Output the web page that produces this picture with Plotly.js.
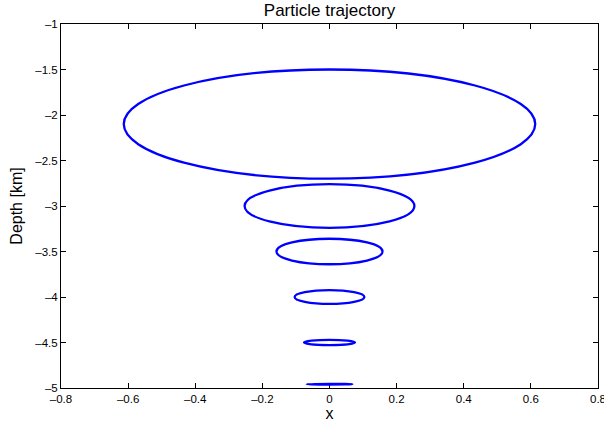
<!DOCTYPE html>
<html>
<head>
<meta charset="utf-8">
<script src="https://cdn.plot.ly/plotly-3.0.1.min.js"></script>
<style>
  html, body { margin: 0; padding: 0; background: #fff; }
  #chart { width: 604px; height: 427px; }
</style>
</head>
<body>
<div id="chart"></div>
<script>
// Orbit centres (depth) and semi-axes
const centerX = [0, 0, 0, 0, 0, 0];
const centerDepth = [-2.1, -3.0, -3.5, -4.0, -4.5, -4.958];
const semiX = [0.613, 0.253, 0.158, 0.104, 0.076, 0.068];
const semiZ = [0.600, 0.240, 0.140, 0.076, 0.028, 0.004];

const xTickVals = [-0.8, -0.6, -0.4, -0.2, 0, 0.2, 0.4, 0.6, 0.8];
const xTickText = ['\u20130.8', '\u20130.6', '\u20130.4', '\u20130.2', '0', '0.2', '0.4', '0.6', '0.8'];
const yTickVals = [-5, -4.5, -4, -3.5, -3, -2.5, -2, -1.5, -1];
const yTickText = ['\u20135', '\u20134.5', '\u20134', '\u20133.5', '\u20133', '\u20132.5', '\u20132', '\u20131.5', '\u20131'];

const lineColor = '#0000ff';

const shapes = centerDepth.map((cz, i) => ({
  type: 'circle',
  xref: 'x', yref: 'y',
  x0: centerX[i] - semiX[i], x1: centerX[i] + semiX[i],
  y0: cz - semiZ[i], y1: cz + semiZ[i],
  line: { color: lineColor, width: 2.3 },
  fillcolor: 'rgba(0,0,0,0)',
  layer: 'above'
}));

const font = 'Liberation Sans, Arial, Helvetica, sans-serif';

const axisCommon = {
  showgrid: false,
  zeroline: false,
  showline: true,
  linecolor: '#000',
  linewidth: 1,
  mirror: 'ticks',
  ticks: 'inside',
  ticklen: 5,
  tickwidth: 1,
  tickcolor: '#000',
  tickmode: 'array',
  ticklabeloverflow: 'allow',
  tickfont: { family: font, size: 11.5, color: '#000' }
};

const layout = {
  width: 604, height: 427,
  margin: { l: 60.5, r: 6, t: 24, b: 39 },
  paper_bgcolor: '#fff',
  plot_bgcolor: '#fff',
  showlegend: false,
  title: {
    text: 'Particle trajectory',
    font: { family: font, size: 17, color: '#000' },
    x: 0.5, xanchor: 'center', xref: 'paper',
    y: 0.99, yanchor: 'top', yref: 'container'
  },
  xaxis: Object.assign({}, axisCommon, {
    range: [-0.800001, 0.800001],
    tickvals: xTickVals, ticktext: xTickText,
    title: { text: 'x', font: { family: font, size: 16, color: '#000' }, standoff: 3 }
  }),
  yaxis: Object.assign({}, axisCommon, {
    range: [-5.000001, -0.999999],
    tickvals: yTickVals, ticktext: yTickText,
    title: { text: 'Depth [km]', font: { family: font, size: 16, color: '#000' }, standoff: 8 }
  }),
  shapes: shapes
};

Plotly.newPlot('chart', [], layout, { displayModeBar: false, staticPlot: true });
</script>
</body>
</html>
